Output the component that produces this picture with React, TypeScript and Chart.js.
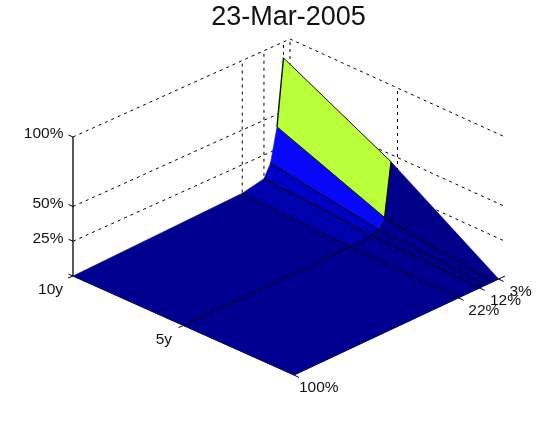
import React, { useEffect, useRef } from "react";
import { Chart, registerables } from "chart.js";

Chart.register(...registerables);

const titleText = "23-Mar-2005";

// surface
const strikes = [3, 6, 9, 12, 22, 100];
const tenors = [10, 5, 0];
const vol10y = [88.5, 41, 17, 8, 4.5, 0];
const vol5y = [49, 11, 4.6, 2.5, 1.2, 0];
const vol0y = [0, 0, 0, 0, 0, 0];
const surface = [vol10y, vol5y, vol0y];

// ticks
const zTicks = [25, 50, 100];
const zTickLabels = ["25%", "50%", "100%"];
const tenorTicks = [5, 10];
const tenorTickLabels = ["5y", "10y"];
const strikeTicks = [100, 22, 12, 3];
const strikeTickLabels = ["100%", "22%", "12%", "3%"];

// face colours: rows = tenor bands, columns = strike bands
const faceColors = [
  ["#B9FF3A", "#0808F8", "#0000C4", "#0000AC", "#000090"],
  ["#00008A", "#00008E", "#00008E", "#000090", "#000090"],
];
const meshColor = "#00002C";
const ink = "#000000";

// 3-D view: floor corners in screen space
const F = [294, 375];
const R = [505, 276];
const L = [73, 276];
const B = [290, 178];
const ZPX = 1.39;

function project(s: number, t: number, z: number) {
  const u = (100 - s) / 100;
  const v = t / 10;
  const x =
    (1 - u) * (1 - v) * F[0] + u * (1 - v) * R[0] + (1 - u) * v * L[0] + u * v * B[0];
  const y =
    (1 - u) * (1 - v) * F[1] + u * (1 - v) * R[1] + (1 - u) * v * L[1] + u * v * B[1];
  return { x, y: y - z * ZPX };
}

const lineDs = (data: any[], dashed = false, width = 1, color = ink) => ({
  data,
  showLine: true,
  fill: false,
  borderColor: color,
  borderWidth: width,
  borderDash: dashed ? [3, 4] : [],
  pointRadius: 0,
  tension: 0,
});

const polyDs = (data: any[], color: string) => ({
  data: [...data, data[0]],
  showLine: true,
  fill: "shape",
  backgroundColor: color,
  borderColor: color,
  borderWidth: 0.5,
  pointRadius: 0,
  tension: 0,
});

function buildDatasets() {
  const list: any[] = [];
  // back walls: dashed grid
  zTicks.forEach((z) => {
    list.push(lineDs([project(100, 10, z), project(0, 10, z), project(0, 0, z)], true));
  });
  [22, 12, 3, 0].forEach((s) => {
    list.push(lineDs([project(s, 10, 0), project(s, 10, 100)], true));
  });
  list.push(lineDs([project(0, 5, 0), project(0, 5, 100)], true));

  // axes
  list.push(lineDs([project(100, 10, 0), project(100, 10, 100)], false, 1.3));
  list.push(lineDs([project(100, 10, 0), project(100, 0, 0), project(0, 0, 0)]));

  // surface faces, far to near
  for (let r = 0; r < tenors.length - 1; r++) {
    for (let c = 0; c < strikes.length - 1; c++) {
      list.push(
        polyDs(
          [
            project(strikes[c], tenors[r], surface[r][c]),
            project(strikes[c + 1], tenors[r], surface[r][c + 1]),
            project(strikes[c + 1], tenors[r + 1], surface[r + 1][c + 1]),
            project(strikes[c], tenors[r + 1], surface[r + 1][c]),
          ],
          faceColors[r][c]
        )
      );
    }
  }

  // mesh lines along tenor
  [9, 12, 22].forEach((s) => {
    const c = strikes.indexOf(s);
    list.push(
      lineDs(tenors.map((t, r) => project(s, t, surface[r][c])), false, 1.2, meshColor)
    );
  });
  // the 6% line carries on towards zero tenor
  list.push(lineDs([project(6, 5, vol5y[1]), project(6, 0, vol0y[1])], false, 1.2, meshColor));
  // mesh line at 5y
  list.push(lineDs(strikes.slice(2).map((s, i) => project(s, 5, vol5y[i + 2])), false, 1.2, meshColor));
  // outline of the lit panel and ridge
  list.push(lineDs([project(3, 10, vol10y[0]), project(3, 5, vol5y[0])], false, 1, "#101010"));
  list.push(lineDs([project(3, 10, vol10y[0]), project(6, 10, vol10y[1])], false, 1.4, "#101010"));
  list.push(lineDs([project(3, 5, vol5y[0]), project(6, 5, vol5y[1])], false, 1.4, "#101010"));
  list.push(lineDs([project(6, 10, vol10y[1]), project(6, 5, vol5y[1])], false, 1, "#101010"));

  // tick marks
  zTicks.concat([0]).forEach((z) => {
    const a = project(100, 10, z);
    list.push(lineDs([a, { x: a.x - 4.5, y: a.y - 2 }]));
  });
  tenorTicks.forEach((t) => {
    const a = project(100, t, 0);
    list.push(lineDs([a, { x: a.x - 5, y: a.y + 2 }]));
  });
  strikeTicks.forEach((s) => {
    const a = project(s, 0, 0);
    list.push(lineDs([a, { x: a.x + 5, y: a.y + 2.5 }]));
  });

  list.forEach((d, i) => {
    d.order = -i;
  });
  return list;
}

const tickLabelPlugin = {
  id: "tickLabels3d",
  afterDraw(chart: any) {
    const { ctx, scales } = chart;
    const put = (text: string, p: { x: number; y: number }, dx: number, dy: number) => {
      ctx.fillText(text, scales.x.getPixelForValue(p.x) + dx, scales.y.getPixelForValue(p.y) + dy);
    };
    ctx.save();
    ctx.font = "15.5px 'Liberation Sans', Arial, sans-serif";
    ctx.fillStyle = "#111111";
    ctx.textBaseline = "middle";
    ctx.textAlign = "right";
    zTicks.forEach((z, i) => put(zTickLabels[i], project(100, 10, z), -9.5, -3));
    tenorTicks.forEach((t, i) => put(tenorTickLabels[i], project(100, t, 0), t === 10 ? -10 : -11.5, 14));
    ctx.textAlign = "left";
    strikeTicks.forEach((s, i) =>
      put(strikeTickLabels[i], project(s, 0, 0), 5 + (100 - s) * 0.06, 12.5)
    );
    ctx.restore();
  },
};

export default function App() {
  const ref = useRef<HTMLCanvasElement>(null);
  useEffect(() => {
    document.body.style.margin = "0";
    document.body.style.background = "#ffffff";
    const chart = new Chart(ref.current!, {
      type: "scatter",
      data: { datasets: buildDatasets() },
      options: {
        animation: false,
        responsive: false,
        events: [],
        layout: { padding: { left: 17, right: 0, top: 0, bottom: 0 } },
        plugins: {
          legend: { display: false },
          tooltip: { enabled: false },
          title: {
            display: true,
            text: titleText,
            color: "#111111",
            font: { family: "'Liberation Sans', Arial, sans-serif", size: 27, weight: "normal", lineHeight: 1.2 },
            padding: { top: 1.6, bottom: 0 },
          },
        },
        scales: {
          x: { type: "linear", display: false, min: 17, max: 560 },
          y: { type: "linear", display: false, reverse: true, min: 34, max: 423 },
        },
      },
      plugins: [tickLabelPlugin],
    } as any);
    return () => chart.destroy();
  }, []);
  return <canvas ref={ref} width={560} height={423} style={{ display: "block" }} />;
}
